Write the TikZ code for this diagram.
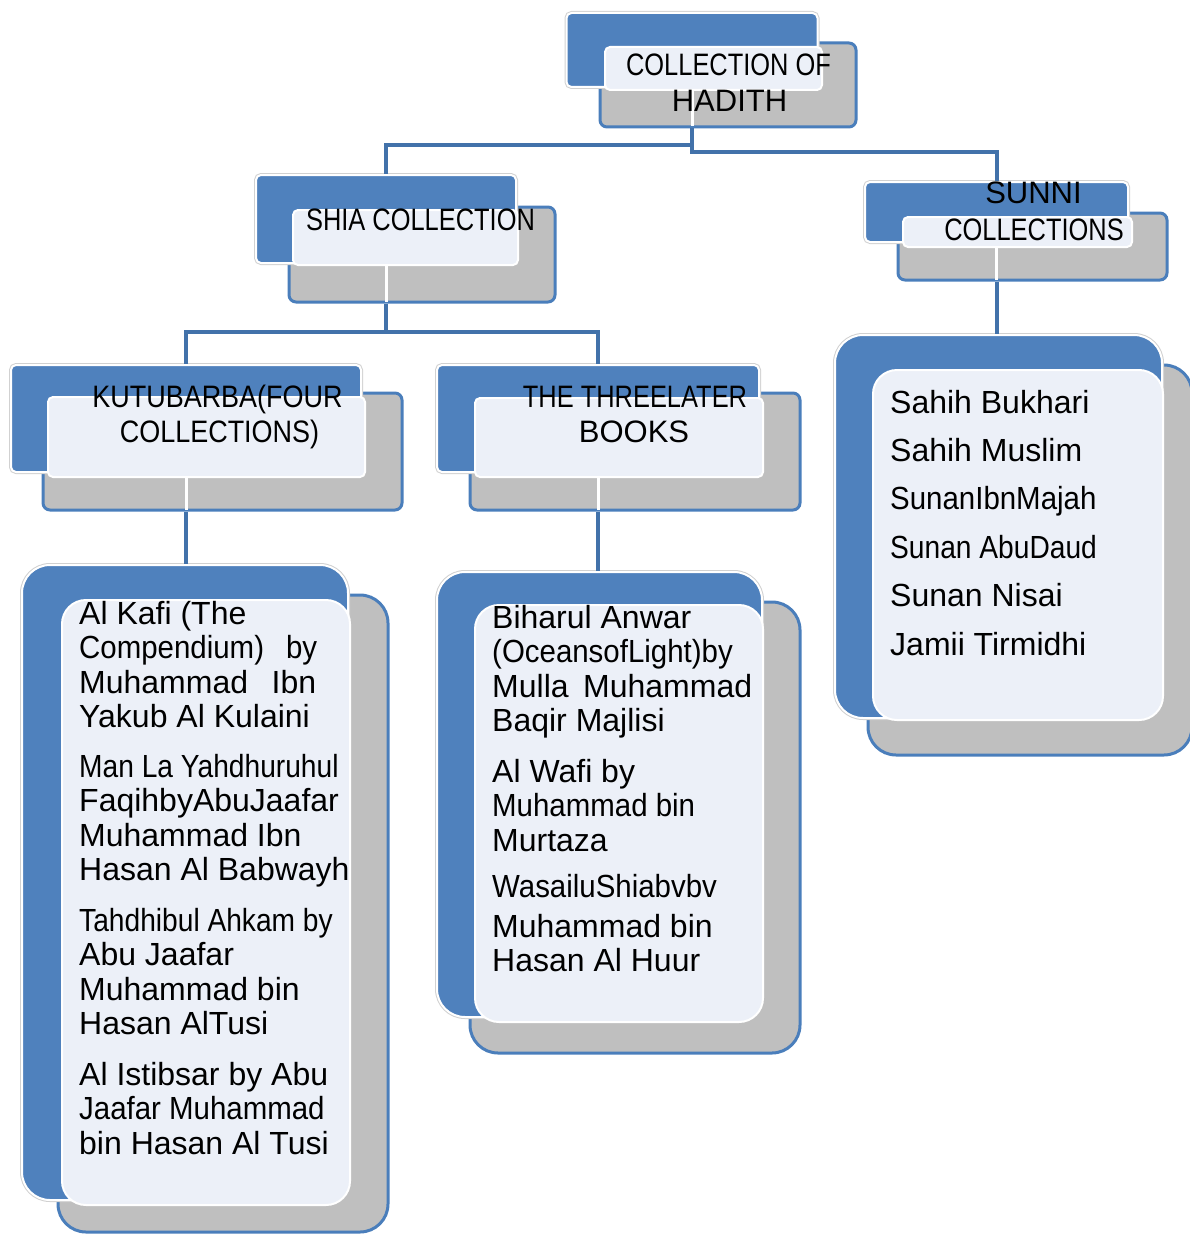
\documentclass[tikz,border=0pt]{standalone}
\usepackage{fontspec}
\setmainfont{Liberation Sans}
\newfontfamily\headnarrow[FakeStretch=0.82]{Liberation Sans}
\newfontfamily\headmid[FakeStretch=0.87]{Liberation Sans}
\newfontfamily\listnarrow[FakeStretch=0.88]{Liberation Sans}
\newfontfamily\listsnug[FakeStretch=0.92]{Liberation Sans}
\usetikzlibrary{positioning}
\definecolor{hblue}{HTML}{4F81BD}
\definecolor{hgray}{HTML}{BFBFBF}
\definecolor{hlight}{HTML}{ECF0F8}
\definecolor{hedge}{HTML}{4A7EBB}
\definecolor{hlink}{HTML}{4272AA}

\begin{document}
\begin{tikzpicture}[x=1pt, y=-1pt,
    bluelayer/.style={fill=hblue, draw=white, line width=2pt, rounded corners=5pt, inner sep=0pt,
      preaction={draw=black!18, line width=4pt}},
    graylayer/.style={fill=hgray, draw=hedge, line width=3pt, rounded corners=7pt, inner sep=0pt},
    lightlayer/.style={fill=hlight, draw=white, line width=2pt, rounded corners=5pt, inner sep=0pt},
    bigcorner/.style={rounded corners=28pt},
    link/.style={draw=hlink, line width=4pt},
    seam/.style={draw=white, line width=3pt, shorten >=2pt},
    headtext/.style={font=\fontsize{31}{36}\selectfont, inner sep=0pt, anchor=base},
    headslim/.style={headtext, font=\headnarrow\fontsize{31}{36}\selectfont},
    headmidslim/.style={headtext, font=\headmid\fontsize{31}{36}\selectfont},
    listtext/.style={font=\fontsize{32}{34.5}\selectfont, inner sep=0pt, anchor=base west}]
  \useasboundingbox (0,0) rectangle (1189,1236);

  % collection of hadith
  \node[graylayer, minimum width=256pt, minimum height=84pt] (rootG) at (728,85) {};
  \node[bluelayer, minimum width=251pt, minimum height=74pt] (rootB) at (692,50) {};
  \node[lightlayer, minimum width=217pt, minimum height=43pt] (rootL) at (713.5,68.5) {};
  \draw[seam] (rootB |- rootL.south) -- (rootB |- rootG.south);
  \node[headslim] (rootT1) at (728.5,76) {COLLECTION OF};
  \node[headtext] (rootT2) at (729.5,112) {HADITH};

  % shia
  \node[graylayer, minimum width=266pt, minimum height=95pt] (shiaG) at (422,254.5) {};
  \node[bluelayer, minimum width=260pt, minimum height=88pt] (shiaB) at (386,219) {};
  \node[lightlayer, minimum width=225pt, minimum height=55pt] (shiaL) at (405.5,237.5) {};
  \draw[seam] (shiaB |- shiaL.south) -- (shiaB |- shiaG.south);
  \node[headslim] (shiaT) at (420.5,230) {SHIA COLLECTION};

  % sunni
  \node[graylayer, minimum width=269pt, minimum height=67pt] (sunG) at (1032.5,246.5) {};
  \node[bluelayer, minimum width=263pt, minimum height=60pt] (sunB) at (996.5,212) {};
  \node[lightlayer, minimum width=229pt, minimum height=30pt] (sunL) at (1017.5,232) {};
  \draw[seam] (sunB |- sunL.south) -- (sunB |- sunG.south);
  \node[headtext] (sunT1) at (1033.5,203) {SUNNI};
  \node[headslim] (sunT2) at (1034,240) {COLLECTIONS};

  % kutub arba
  \node[graylayer, minimum width=359pt, minimum height=117pt] (kutG) at (222.5,451.5) {};
  \node[bluelayer, minimum width=350pt, minimum height=107pt] (kutB) at (186,418.5) {};
  \node[lightlayer, minimum width=317pt, minimum height=80pt] (kutL) at (206.5,437) {};
  \draw[seam] (kutB |- kutL.south) -- (kutB |- kutG.south);
  \node[headmidslim] (kutT1) at (217.5,407) {KUTUBARBA(FOUR};
  \node[headmidslim] (kutT2) at (219.5,442) {COLLECTIONS)};

  % three later books
  \node[graylayer, minimum width=330pt, minimum height=117pt] (thrG) at (635,451.5) {};
  \node[bluelayer, minimum width=322pt, minimum height=107pt] (thrB) at (598,418.5) {};
  \node[lightlayer, minimum width=288pt, minimum height=79pt] (thrL) at (619,437.5) {};
  \draw[seam] (thrB |- thrL.south) -- (thrB |- thrG.south);
  \node[headslim] (thrT1) at (635,407) {THE THREELATER};
  \node[headtext] (thrT2) at (634,442) {BOOKS};

  % lists
  \node[graylayer, bigcorner, minimum width=330pt, minimum height=637pt] (kutListG) at (223,913.5) {};
  \node[bluelayer, bigcorner, minimum width=326pt, minimum height=635pt] (kutListB) at (185,882.5) {};
  \node[lightlayer, rounded corners=24pt, minimum width=288pt, minimum height=605pt] (kutListL) at (206,902.5) {};

  \node[graylayer, bigcorner, minimum width=330pt, minimum height=451pt] (thrListG) at (635,827.5) {};
  \node[bluelayer, bigcorner, minimum width=325pt, minimum height=445pt] (thrListB) at (599.5,794.5) {};
  \node[lightlayer, rounded corners=24pt, minimum width=288pt, minimum height=417pt] (thrListL) at (619,813.5) {};

  \node[graylayer, bigcorner, minimum width=324pt, minimum height=390pt] (sunListG) at (1030,560) {};
  \node[bluelayer, bigcorner, minimum width=327pt, minimum height=383pt] (sunListB) at (998.5,526.5) {};
  \node[lightlayer, rounded corners=24pt, minimum width=290pt, minimum height=350pt] (sunListL) at (1018,545) {};

  % connectors
  \draw[link] (rootB |- rootG.south) -- ++(0,16) -| (shiaB.north);
  \draw[link] (rootB |- rootG.south) -- ++(0,23) -| (sunB.north);
  \draw[link] (shiaB |- shiaG.south) -- ++(0,28) -| (kutB.north);
  \draw[link] (shiaB |- shiaG.south) -- ++(0,28) -| (thrB.north);
  \draw[link] (kutB |- kutG.south) -- (kutB |- kutListB.north);
  \draw[link] (thrB |- thrG.south) -- (thrB |- thrListB.north);
  \draw[link] (sunB |- sunG.south) -- (sunB |- sunListB.north);

  \foreach \y/\n [count=\k] in {624/Al Kafi (The, 658.5/{\listsnug\makebox[238pt][s]{Compendium) by}},
      693/{\makebox[237pt][s]{Muhammad Ibn}}, 727.5/Yakub Al Kulaini, 777/{\listnarrow Man La Yahdhuruhul},
      811.5/FaqihbyAbuJaafar, 846/Muhammad Ibn, 880.5/Hasan Al Babwayh, 931/{\listnarrow Tahdhibul Ahkam by},
      965.5/Abu Jaafar, 1000/Muhammad bin, 1034.5/Hasan AlTusi, 1085/Al Istibsar by Abu,
      1119.5/{\listsnug Jaafar Muhammad}, 1154/bin Hasan Al Tusi}
    \node[listtext] (kutItem\k) at (79,\y) {\n};

  \foreach \y/\n [count=\k] in {628/Biharul Anwar, 662.5/{\listsnug (OceansofLight)by},
      697/{\makebox[260pt][s]{Mulla Muhammad}}, 731.5/Baqir Majlisi, 782/Al Wafi by,
      816.5/{\listsnug Muhammad bin}, 851/Murtaza, 897/{\listsnug WasailuShiabvbv},
      937/Muhammad bin, 971.5/Hasan Al Huur}
    \node[listtext] (thrItem\k) at (492,\y) {\n};

  \foreach \y/\n [count=\k] in {413/Sahih Bukhari, 461.4/Sahih Muslim, 509.8/{\listsnug SunanIbnMajah},
      558.2/{\listnarrow Sunan AbuDaud}, 606.6/Sunan Nisai, 655/Jamii Tirmidhi}
    \node[listtext] (sunItem\k) at (890,\y) {\n};
\end{tikzpicture}
\end{document}
